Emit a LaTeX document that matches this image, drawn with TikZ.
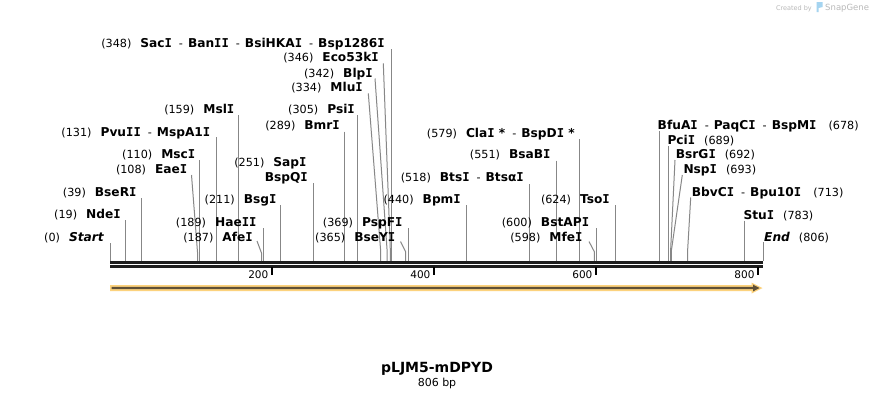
\documentclass[tikz,border=0pt]{standalone}
\usepackage{fontspec}
\setmainfont{DejaVu Sans}
\newfontfamily\monofam{DejaVu Sans Mono}
\definecolor{cutgray}{RGB}{135,135,135}
\definecolor{barblack}{RGB}{30,30,30}
\definecolor{featfill}{RGB}{252,210,125}
\definecolor{featdark}{RGB}{95,80,55}
\definecolor{wmgray}{RGB}{185,185,185}
\definecolor{wmblue}{RGB}{165,212,240}
\newcommand\nm[1]{{\fontsize{12.2}{14}\selectfont\bfseries #1}}
\newcommand\nmi[1]{{\fontsize{12.2}{14}\selectfont\bfseries\itshape #1}}
\newcommand\Iser{{\monofam I}}
\newcommand\gp{\hspace{9pt}}
\newcommand\dsh{\hspace{7pt}-\hspace{5pt}}
\newcommand\sitept[2]{\coordinate (s#1) at ({110+#2*0.81017},261);}
\newcommand\vcut[3]{\sitept{#1}{#2}\coordinate (t#1) at ({110+#2*0.81017},#3);\draw[cut] (t#1) -- (s#1);}
\newcommand\dcut[5]{\sitept{#1}{#2}\coordinate (t#1) at (#3,#4);\coordinate (k#1) at ({110+#2*0.81017},#5);\draw[cut] (t#1) -- (k#1) -- (s#1);}
\begin{document}
\begin{tikzpicture}[x=1pt,y=-1pt,
 lab/.style={inner sep=0pt,font=\fontsize{11.2}{13}\selectfont,anchor=base east},
 labr/.style={lab,anchor=base west},
 cut/.style={draw=cutgray,line width=1pt},
 barline/.style={draw=barblack,line width=2.7pt},
 tickmark/.style={draw=black,line width=2pt},
 ticklab/.style={inner sep=0pt,font=\fontsize{10.5}{12}\selectfont,anchor=base east}]
\useasboundingbox (0,0) rectangle (874,400);
\fill[white] (0,0) rectangle (874,400);

% watermark
\node[inner sep=0pt,anchor=base east,text=wmgray,font=\fontsize{6.5}{8}\selectfont] (wm1) at (812,10) {Created by};
\fill[wmblue] (816.5,2) -- (822.5,2) -- (822.5,7) -- (818.5,8) -- (818.5,12) -- (816.5,12) -- cycle;
\node[inner sep=0pt,anchor=base west,text=wmgray,font=\fontsize{8.5}{10}\selectfont] (wm2) at (825,10.5) {SnapGene};

% cut lines
\vcut{Start}{0}{243}
\vcut{NdeI}{19}{220}
\vcut{BseRI}{39}{198}
\dcut{EaeI}{108}{191.5}{175}{252}
\vcut{MscI}{110}{160}
\vcut{PvuII}{131}{137}
\vcut{MslI}{159}{115}
\dcut{AfeI}{187}{257}{241}{253}
\vcut{HaeII}{189}{228}
\vcut{BsgI}{211}{205}
\vcut{SapI}{251}{183}
\vcut{BmrI}{289}{131.5}
\vcut{PsiI}{305}{115}
\dcut{MluI}{334}{368.3}{93.3}{250}
\dcut{BlpI}{342}{375}{78.5}{250}
\dcut{Eco}{346}{383.3}{63.3}{250}
\vcut{SacI}{348}{49}
\dcut{BseYI}{365}{400.5}{241.5}{252}
\vcut{PspFI}{369}{228}
\vcut{BpmI}{440}{205}
\vcut{BtsI}{518}{184}
\vcut{BsaBI}{551}{160.7}
\vcut{ClaI}{579}{139}
\dcut{MfeI}{598}{589}{241.5}{252}
\vcut{BstAPI}{600}{228.3}
\vcut{TsoI}{624}{205}
\vcut{BfuAI}{678}{131}
\vcut{PciI}{689}{146}
\dcut{BsrGI}{692}{675}{160}{250}
\dcut{NspI}{693}{682.3}{175}{250}
\dcut{BbvCI}{713}{690.7}{197.5}{250}
\vcut{StuI}{783}{220.5}
\vcut{End}{806}{242}

% labels, left side
\node[lab] (lStart) at (104,241.5) {(0)\gp\nmi{Start}};
\node[lab] (lNdeI) at (121,218.5) {(19)\gp\nm{Nde\Iser}};
\node[lab] (lBseRI) at (136.7,196) {(39)\gp\nm{BseR\Iser}};
\node[lab] (lEaeI) at (187.5,173.5) {(108)\gp\nm{Eae\Iser}};
\node[lab] (lMscI) at (195.5,158.3) {(110)\gp\nm{Msc\Iser}};
\node[lab] (lPvuII) at (210.5,136) {(131)\gp\nm{Pvu\Iser\Iser}\dsh\nm{MspA1\Iser}};
\node[lab] (lMslI) at (234.5,113.5) {(159)\gp\nm{Msl\Iser}};
\node[lab] (lAfeI) at (253,241.5) {(187)\gp\nm{Afe\Iser}};
\node[lab] (lHaeII) at (256.7,226.2) {(189)\gp\nm{Hae\Iser\Iser}};
\node[lab] (lBsgI) at (276.7,203.8) {(211)\gp\nm{Bsg\Iser}};
\node[lab] (lSapI) at (306.7,166.8) {(251)\gp\nm{Sap\Iser}};
\node[lab] (lBspQI) at (308,181.5) {\nm{BspQ\Iser}};
\node[lab] (lBmrI) at (340,129.5) {(289)\gp\nm{Bmr\Iser}};
\node[lab] (lPsiI) at (355,113.5) {(305)\gp\nm{Psi\Iser}};
\node[lab] (lMluI) at (363,91.2) {(334)\gp\nm{Mlu\Iser}};
\node[lab] (lBlpI) at (373,77.2) {(342)\gp\nm{Blp\Iser}};
\node[lab] (lEco) at (379,61.5) {(346)\gp\nm{Eco53k\Iser}};
\node[lab] (lSacI) at (385,47.5) {(348)\gp\nm{Sac\Iser}\dsh\nm{Ban\Iser\Iser}\dsh\nm{BsiHKA\Iser}\dsh\nm{Bsp1286\Iser}};
\node[lab] (lBseYI) at (395.5,241.5) {(365)\gp\nm{BseY\Iser}};
\node[lab] (lPspFI) at (402.7,226.2) {(369)\gp\nm{PspF\Iser}};
\node[lab] (lBpmI) at (461,203.8) {(440)\gp\nm{Bpm\Iser}};
\node[lab] (lBtsI) at (524,181.8) {(518)\gp\nm{Bts\Iser}\dsh\nm{Btsα\Iser}};
\node[lab] (lBsaBI) at (550.7,158.5) {(551)\gp\nm{BsaB\Iser}};
\node[lab] (lClaI) at (575,137.2) {(579)\gp\nm{Cla\Iser{} *}\dsh\nm{BspD\Iser{} *}};
\node[lab] (lMfeI) at (582.7,241.2) {(598)\gp\nm{Mfe\Iser}};
\node[lab] (lBstAPI) at (589.3,226.8) {(600)\gp\nm{BstAP\Iser}};
\node[lab] (lTsoI) at (610,203.8) {(624)\gp\nm{Tso\Iser}};

% labels, right side
\node[labr] (lBfuAI) at (657.5,129.5) {\nm{BfuA\Iser}\dsh\nm{PaqC\Iser}\dsh\nm{BspM\Iser}\hspace{12pt}(678)};
\node[labr] (lPciI) at (667.3,144.5) {\nm{Pci\Iser}\gp(689)};
\node[labr] (lBsrGI) at (675.7,158.5) {\nm{BsrG\Iser}\gp(692)};
\node[labr] (lNspI) at (683.3,173.8) {\nm{Nsp\Iser}\gp(693)};
\node[labr] (lBbvCI) at (691.7,196.2) {\nm{BbvC\Iser}\dsh\nm{Bpu10\Iser}\hspace{12pt}(713)};
\node[labr] (lStuI) at (743.3,219.5) {\nm{Stu\Iser}\gp(783)};
\node[labr] (lEnd) at (764,241.2) {\nmi{End}\gp(806)};

% sequence bar
\coordinate (b0a) at (110,262.4); \coordinate (b1a) at (763.3,262.4);
\coordinate (b0b) at (110,266.4); \coordinate (b1b) at (763.3,266.4);
\draw[barline] (b0a) -- (b1a);
\draw[barline] (b0b) -- (b1b);
\foreach \p in {200,400,600,800}{
  \draw[tickmark] ({110+\p*0.81017},267) -- ({110+\p*0.81017},274.5);
  \node[ticklab] at ({110+\p*0.81017-3.5},278) {\p};
}

% feature arrow
\fill[featfill] (110,285) -- (751.5,285) -- (751.5,282.5) -- (762.5,288) -- (751.5,293.5) -- (751.5,291) -- (110,291) -- cycle;
\fill[featdark] (111.7,286.8) -- (753,286.8) -- (753,284.6) -- (759.5,288) -- (753,291.4) -- (753,289.2) -- (111.7,289.2) -- cycle;

% title
\node[inner sep=0pt,font=\fontsize{14}{16}\selectfont\bfseries] (title) at (437,369) {pLJM5-mDPYD};
\node[inner sep=0pt,font=\fontsize{11}{13}\selectfont] (size) at (437,383.5) {806 bp};
\end{tikzpicture}
\end{document}
